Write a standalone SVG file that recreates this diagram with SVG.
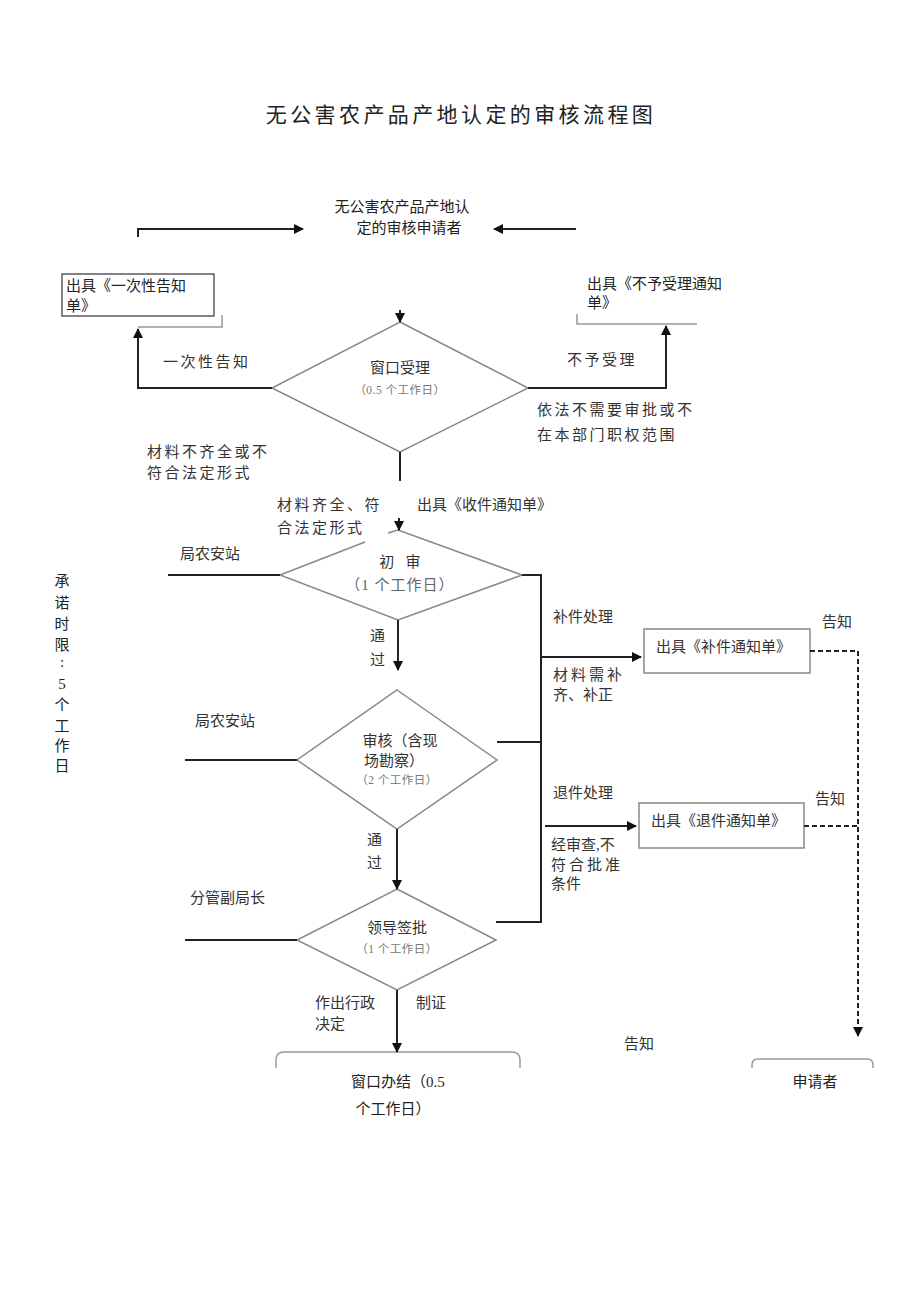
<svg xmlns="http://www.w3.org/2000/svg" width="920" height="1301" viewBox="0 0 920 1301">
<defs>
<marker id="ah" markerWidth="10" markerHeight="10" refX="9" refY="5" orient="auto" markerUnits="userSpaceOnUse">
<path d="M0,0 L10,5 L0,10 Z" fill="#111"/>
</marker>
<style>
text{font-family:"Liberation Serif","Noto Sans CJK SC",serif;fill:#333;font-size:15px}
.t{font-size:21px;letter-spacing:3.4px;fill:#222}
.s{font-size:15px;fill:#222}
.w{letter-spacing:2.5px}
.g{font-size:11.5px;fill:#777;letter-spacing:0.5px}
.c{text-anchor:middle}
.ln{stroke:#222;stroke-width:2;fill:none}
.dm{stroke:#888;stroke-width:1.5;fill:none}
.bx{stroke:#888;stroke-width:1.5;fill:#fff}
.gr{stroke:#999;stroke-width:1.5;fill:none}
.ds{stroke:#222;stroke-width:2;fill:none;stroke-dasharray:5 3}
</style>
</defs>
<rect width="920" height="1301" fill="#fff"/>
<text class="t c" x="461" y="122">无公害农产品产地认定的审核流程图</text>

<g id="applicant">
<text class="s c" x="402" y="212">无公害农产品产地认</text>
<text class="s c" x="409" y="233">定的审核申请者</text>
</g>

<g id="notice-once">
<rect x="62" y="274" width="152" height="42" fill="#fff" stroke="#333" stroke-width="1.2"/>
<text class="s" x="66" y="291">出具《一次性告知</text>
<text class="s" x="66" y="311">单》</text>
</g>

<g id="notice-reject">
<text class="s" x="587" y="289">出具《不予受理通知</text>
<text class="s" x="587" y="308">单》</text>
</g>

<g id="window-accept">
<path class="dm" d="M400,322 L528,388 L400,452 L272,388 Z"/>
<text class="c" x="400" y="373">窗口受理</text>
<text class="g c" x="400" y="394">（0.5 个工作日）</text>
</g>

<g id="first-review">
<path class="dm" d="M388,533 L398,530 L522,575 L398,620 L280,575 L365,542"/>
<text class="c" x="400" y="567" xml:space="preserve">初   审</text>
<text class="c" x="400" y="590" style="fill:#666;letter-spacing:1px">（1 个工作日）</text>
</g>

<g id="audit">
<path class="dm" d="M397,690 L497,760 L397,829 L297,760 Z"/>
<text class="c" x="400" y="746">审核（含现</text>
<text class="c" x="394" y="766">场勘察）</text>
<text class="g c" x="397" y="784">（2 个工作日）</text>
</g>

<g id="leader-approve">
<path class="dm" d="M397,889 L496,940 L397,990 L297,940 Z"/>
<text class="c" x="397" y="933">领导签批</text>
<text class="g c" x="397" y="953">（1 个工作日）</text>
</g>

<g id="supplement-notice">
<rect class="bx" x="644" y="629" width="166" height="44"/>
<text x="656" y="652">出具《补件通知单》</text>
</g>

<g id="return-notice">
<rect class="bx" x="639" y="803" width="165" height="45"/>
<text x="651" y="826">出具《退件通知单》</text>
</g>

<g id="window-finish">
<path class="gr" d="M276,1068 L276,1060 Q276,1052 284,1052 L512,1052 Q520,1052 520,1060 L520,1068"/>
<text class="s c" x="398" y="1087">窗口办结（0.5</text>
<text class="s c" x="393" y="1114">个工作日）</text>
</g>

<g id="applicant-end">
<path class="gr" d="M752,1068 L752,1065 Q752,1059 758,1059 L867,1059 Q873,1059 873,1065 L873,1068"/>
<text class="s c" x="815" y="1087">申请者</text>
</g>

<g id="connectors">
<path class="ln" d="M138,237 L138,229 L303,229" marker-end="url(#ah)"/>
<path class="ln" d="M576,229 L494,229" marker-end="url(#ah)"/>
<path class="gr" d="M138,327 L222,327 L222,315"/>
<path class="ln" d="M272,388 L138,388 L138,329" marker-end="url(#ah)"/>
<path class="gr" d="M577,314 L577,324 L697,324"/>
<path class="ln" d="M528,388 L666,388 L666,326" marker-end="url(#ah)"/>
<path class="ln" d="M400,310 L400,322" marker-end="url(#ah)"/>
<path class="ln" d="M400,452 L400,481"/>
<path class="ln" d="M399,518 L399,530" marker-end="url(#ah)"/>
<path class="ln" d="M168,575 L280,575"/>
<path class="ln" d="M522,575 L541,575 L541,922 L496,922"/>
<path class="ln" d="M541,657 L641,657" marker-end="url(#ah)"/>
<path class="ln" d="M398,620 L398,670" marker-end="url(#ah)"/>
<path class="ln" d="M185,760 L297,760"/>
<path class="ln" d="M497,742 L541,742"/>
<path class="ln" d="M545,826 L636,826" marker-end="url(#ah)"/>
<path class="ln" d="M397,829 L397,889" marker-end="url(#ah)"/>
<path class="ln" d="M185,940 L297,940"/>
<path class="ln" d="M397,990 L397,1052" marker-end="url(#ah)"/>
<path class="ds" d="M810,651 L858,651 L858,1036" marker-end="url(#ah)"/>
<path class="ds" d="M804,826 L858,826"/>
</g>

<g id="labels">
<text class="w" x="163" y="367">一次性告知</text>
<text class="w" x="567" y="365">不予受理</text>
<text class="w" x="537" y="415">依法不需要审批或不</text>
<text class="w" x="537" y="440">在本部门职权范围</text>
<text class="w" x="147" y="457">材料不齐全或不</text>
<text class="w" x="147" y="478">符合法定形式</text>
<text class="w" x="277" y="510">材料齐全、符</text>
<text class="w" x="277" y="533">合法定形式</text>
<text x="417" y="510">出具《收件通知单》</text>
<text x="180" y="559">局农安站</text>
<text x="370" y="641">通</text>
<text x="370" y="665">过</text>
<text x="553" y="622">补件处理</text>
<text x="553" y="680" style="letter-spacing:3px">材料需补</text>
<text x="553" y="700">齐、补正</text>
<text x="822" y="627">告知</text>
<text x="195" y="726">局农安站</text>
<text x="553" y="798">退件处理</text>
<text x="815" y="804">告知</text>
<text x="551" y="850">经审查,不</text>
<text x="551" y="870" style="letter-spacing:3px">符合批准</text>
<text x="551" y="889">条件</text>
<text x="367" y="845">通</text>
<text x="367" y="868">过</text>
<text x="190" y="903">分管副局长</text>
<text x="315" y="1008">作出行政</text>
<text x="315" y="1029">决定</text>
<text x="416" y="1008">制证</text>
<text x="624" y="1049">告知</text>
</g>

<g id="promise">
<text class="s c" x="62" y="586">承</text>
<text class="s c" x="62" y="608">诺</text>
<text class="s c" x="62" y="629">时</text>
<text class="s c" x="62" y="650">限</text>
<text class="s c" x="62" y="667">:</text>
<text class="s c" x="62" y="689">5</text>
<text class="s c" x="62" y="710">个</text>
<text class="s c" x="62" y="731">工</text>
<text class="s c" x="62" y="751">作</text>
<text class="s c" x="62" y="771">日</text>
</g>
</svg>
